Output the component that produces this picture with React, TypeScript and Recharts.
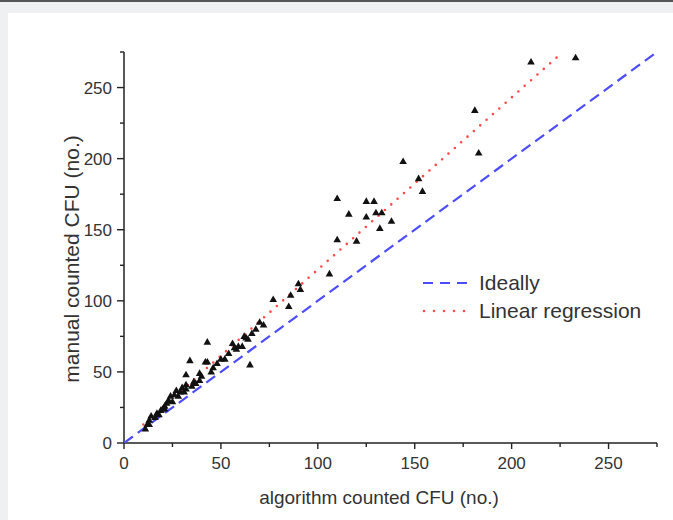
import { ScatterChart, Scatter, XAxis, YAxis, Label } from "recharts";

// manual vs algorithm CFU counts
const algoCount = [
  210, 233, 181, 183, 144, 152, 154, 110, 125, 129, 116, 125, 130, 133, 138, 132,
  110, 120, 106, 90, 91, 86, 85, 77, 70, 72, 68, 66, 62, 63, 43, 56, 59, 61, 57,
  52, 50, 34, 42, 43, 65, 46, 45, 39, 32, 39, 36, 37, 32, 30, 32, 29, 27, 26, 24,
  23, 22, 21, 21, 19, 17, 14, 13, 12, 13, 11, 25, 28, 18, 35, 40, 48, 54, 58, 64,
  16, 20, 31,
];
const manualCount = [
  268, 271, 234, 204, 198, 186, 177, 172, 170, 170, 161, 159, 162, 162, 156, 151,
  143, 142, 119, 112, 108, 104, 96, 101, 85, 83, 80, 77, 75, 74, 71, 70, 68, 68, 67,
  59, 59, 58, 57, 57, 55, 53, 50, 49, 48, 44, 43, 42, 41, 39, 38, 36, 37, 34, 33,
  30, 28, 26, 24, 23, 21, 19, 16, 13, 13, 10, 29, 33, 20, 40, 47, 56, 63, 66, 73,
  18, 24, 36,
];

// y = x reference
const idealX = [0, 275];
const idealY = [0, 275];

// fitted line endpoints
const regX = [10, 226];
const regY = [13, 274.5];

const axisTicks = [0, 25, 50, 75, 100, 125, 150, 175, 200, 225, 250, 275];

const FONT = '"Liberation Sans", Arial, Helvetica, sans-serif';
const TEXT = "#333";
const BLUE = "#4d4dff";
const RED = "#ff4a4a";

const points = algoCount.map((x, i) => ({ x, y: manualCount[i] }));
const ideal = idealX.map((x, i) => ({ x, y: idealY[i] }));
const regression = regX.map((x, i) => ({ x, y: regY[i] }));

function XTick(props: any) {
  const { x, y, payload } = props;
  const major = payload.value % 50 === 0;
  return (
    <g>
      <line x1={x} x2={x} y1={y} y2={y + (major ? 6 : 4)} stroke="#222" strokeWidth={1.4} />
      {major && (
        <text x={x} y={y + 26} textAnchor="middle" fontSize={17} fill={TEXT} fontFamily={FONT}>
          {payload.value}
        </text>
      )}
    </g>
  );
}

function YTick(props: any) {
  const { x, y, payload } = props;
  const major = payload.value % 50 === 0;
  return (
    <g>
      <line x1={x} x2={x - (major ? 7 : 4)} y1={y} y2={y} stroke="#222" strokeWidth={1.4} />
      {major && (
        <text x={x - 12} y={y + 6} textAnchor="end" fontSize={17} fill={TEXT} fontFamily={FONT}>
          {payload.value}
        </text>
      )}
    </g>
  );
}

function Triangle(props: any) {
  const { cx, cy } = props;
  return (
    <path
      d={`M${cx},${cy - 4}L${cx + 3.8},${cy + 2.6}L${cx - 3.8},${cy + 2.6}Z`}
      fill="#111"
    />
  );
}

const noDot = () => <g />;

export default function App() {
  return (
    <div
      style={{
        position: "fixed",
        left: 0,
        top: 0,
        width: 673,
        height: 520,
        background: "#eff0f2",
        fontFamily: FONT,
        overflow: "hidden",
      }}
    >
      <div style={{ position: "absolute", left: 0, top: 0, width: 673, height: 2, background: "#555" }} />
      <div style={{ position: "absolute", left: 8, top: 13, right: 0, bottom: 0, background: "#fff" }} />
      <div style={{ position: "absolute", left: 0, top: 0 }}>
        <ScatterChart width={673} height={520} margin={{ top: 52, right: 16, bottom: 0, left: 0 }}>
          <XAxis
            type="number"
            dataKey="x"
            domain={[0, 275]}
            ticks={axisTicks}
            interval={0}
            tickSize={0}
            tickMargin={0}
            tickLine={false}
            tick={<XTick />}
            axisLine={{ stroke: "#222", strokeWidth: 1.5 }}
            height={77}
            allowDataOverflow
          >
            <Label
              content={() => (
                <text x={379} y={504} textAnchor="middle" fontSize={19} fill={TEXT} fontFamily={FONT}>
                  algorithm counted CFU (no.)
                </text>
              )}
            />
          </XAxis>
          <YAxis
            type="number"
            dataKey="y"
            domain={[0, 275]}
            ticks={axisTicks}
            interval={0}
            tickSize={0}
            tickMargin={0}
            tickLine={false}
            tick={<YTick />}
            axisLine={{ stroke: "#222", strokeWidth: 1.5 }}
            width={124}
            allowDataOverflow
          >
            <Label
              content={() => (
                <text
                  x={79}
                  y={259}
                  transform="rotate(-90, 79, 259)"
                  textAnchor="middle"
                  fontSize={21}
                  fill={TEXT}
                  fontFamily={FONT}
                >
                  manual counted CFU (no.)
                </text>
              )}
            />
          </YAxis>
          <Scatter
            data={ideal}
            shape={noDot}
            line={{ stroke: BLUE, strokeWidth: 2.2, strokeDasharray: "11 6" }}
            isAnimationActive={false}
          />
          <Scatter
            data={regression}
            shape={noDot}
            line={{ stroke: RED, strokeWidth: 2.6, strokeDasharray: "0 8.5", strokeLinecap: "round" }}
            isAnimationActive={false}
          />
          <Scatter data={points} shape={Triangle} isAnimationActive={false} />
        </ScatterChart>
      </div>
      <svg style={{ position: "absolute", left: 416, top: 268 }} width={250} height={60}>
        <line x1={7} x2={58} y1={15} y2={15} stroke={BLUE} strokeWidth={2.2} strokeDasharray="10 7" />
        <text x={63} y={22} fontSize={21} fill={TEXT} fontFamily={FONT}>
          Ideally
        </text>
        <line
          x1={8}
          x2={58}
          y1={43}
          y2={43}
          stroke={RED}
          strokeWidth={2.6}
          strokeDasharray="0 10"
          strokeLinecap="round"
        />
        <text x={63} y={50} fontSize={21} fill={TEXT} fontFamily={FONT}>
          Linear regression
        </text>
      </svg>
    </div>
  );
}
